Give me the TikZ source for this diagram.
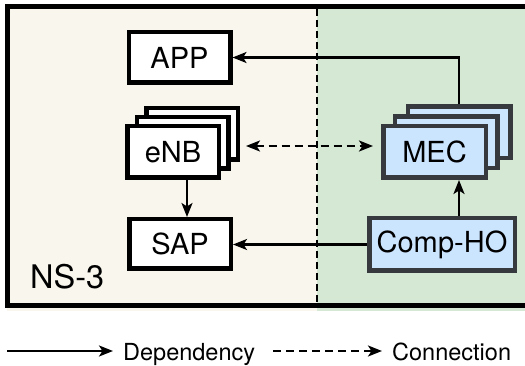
\documentclass[tikz,border=0pt]{standalone}
\usepackage{fontspec}
\setmainfont{TeX Gyre Heros}
\usetikzlibrary{arrows.meta}
\definecolor{simbg}{HTML}{F9F7ED}
\definecolor{edgebg}{HTML}{D5E8D4}
\definecolor{mecfill}{HTML}{CCE5FF}
\definecolor{mecdraw}{HTML}{36393D}
\newcommand{\boxfont}{\fontsize{29}{33}\selectfont}
\newcommand{\legfont}{\fontsize{23.5}{27}\selectfont}

\begin{document}
\begin{tikzpicture}[x=1pt, y=-1pt,
    >={Stealth[length=14pt,width=11pt,inset=3.5pt]},
    simbox/.style={draw=black, line width=4.5pt, fill=white, inner sep=0pt,
        minimum width=101.5pt, minimum height=50.5pt, font=\boxfont},
    enbbox/.style={simbox, minimum width=91.5pt, minimum height=51.5pt},
    mecbox/.style={simbox, draw=mecdraw, fill=mecfill, minimum width=102.5pt, minimum height=51.5pt},
    dep/.style={line width=2.5pt, ->},
    conn/.style={dep, dash pattern=on 8pt off 5pt},
    legtext/.style={font=\legfont, anchor=base west, inner sep=0pt}]
    \useasboundingbox (0,0) rectangle (525,366);

    % Simulator side and edge side
    \fill[simbg] (7,6) rectangle (317,311);
    \fill[edgebg] (317,6) rectangle (525,311);
    \draw[line width=2.5pt, dash pattern=on 7pt off 4pt] (317,9) -- (317,304);
    \draw[line width=4.5pt] (525,6.5) -- (7.5,6.5) -- (7.5,305.5) -- (525,305.5);
    \node[font=\fontsize{32.5}{36}\selectfont, anchor=base west, inner sep=0pt] (ns) at (30,288) {NS-3};

    % NS-3 modules
    \node[simbox] (app) at (179.5,57.5) {APP};
    \node[enbbox] (enb3) at (192,134) {};
    \node[enbbox] (enb2) at (182.5,143) {};
    \node[enbbox] (enb) at (173,152) {eNB};
    \node[simbox, minimum height=49.5pt] (sap) at (180,244) {SAP};

    % MEC hosts
    \node[mecbox] (mec3) at (459,132.5) {};
    \node[mecbox] (mec2) at (446,142.5) {};
    \node[mecbox] (mec) at (434.5,152) {MEC};
    \node[mecbox, minimum width=145.5pt, minimum height=52.5pt] (comp) at (442,244.5) {Comp-HO};

    % Dependencies and connection
    \coordinate (link) at (0,146);
    \draw[dep] (mec3.north) |- (app.east);
    \draw[conn, <->, shorten <=6pt, shorten >=8pt] (enb3.east |- link) -- (mec.west |- link);
    \draw[dep] ([xshift=14pt]enb.south) -- ([xshift=14pt]enb.south |- sap.north);
    \draw[dep] (comp.north -| mec3) -- (mec.south -| mec3);
    \draw[dep] (comp.west) -- (comp.west -| sap.east);

    % Legend
    \coordinate (depA) at (7,351);
    \coordinate (depB) at (113,351);
    \coordinate (connA) at (273,351);
    \coordinate (connB) at (382,351);
    \draw[dep] (depA) -- (depB);
    \node[legtext] (deptext) at (123,360) {Dependency};
    \draw[conn] (connA) -- (connB);
    \node[legtext] (conntext) at (392,360) {Connection};
\end{tikzpicture}
\end{document}
